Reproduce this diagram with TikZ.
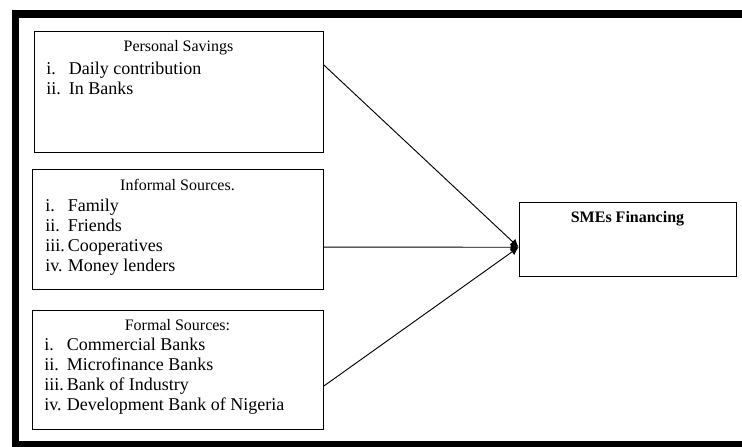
\documentclass[tikz,border=0pt]{standalone}
\usepackage{fontspec}
\setmainfont{Liberation Serif}
\usetikzlibrary{arrows.meta,calc}
\newcommand{\itm}[1]{\makebox[17pt][l]{#1}}

\begin{document}
\begin{tikzpicture}[x=0.75pt,y=-0.75pt,
    box/.style={draw,line width=0.7pt,inner sep=0pt},
    head/.style={font=\fontsize{12}{14}\selectfont},
    items/.style={font=\fontsize{13.5}{15}\selectfont,align=left,anchor=west,inner sep=0pt},
    link/.style={line width=0.7pt,-{Latex[length=6pt,width=6pt]}}]
  \clip (0,0) rectangle (742,446);
  % outer frame
  \draw[line width=5.6pt] (15.5,14) rectangle (800,444.8);

  % source boxes
  \node[box,minimum width=216.75pt,minimum height=90.75pt] (ps) at (178.5,91.5) {};
  \node[head] (psT) at (178.5,48) {Personal Savings};
  \node[items] (psL) at (46,78) {\itm{i.}Daily contribution\\\itm{ii.}In Banks};

  \node[box,minimum width=218.25pt,minimum height=90pt] (inf) at (177.5,229) {};
  \node[head] (infT) at (177.5,185) {Informal Sources.};
  \node[items] (infL) at (45,237) {\itm{i.}Family\\\itm{ii.}Friends\\\itm{iii.}Cooperatives\\\itm{iv.}Money lenders};

  \node[box,minimum width=218.25pt,minimum height=89.25pt] (fs) at (177.5,369.5) {};
  \node[head] (fsT) at (177.5,325) {Formal Sources:};
  \node[items] (fsL) at (44,376) {\itm{i.}Commercial Banks\\\itm{ii.}Microfinance Banks\\\itm{iii.}Bank of Industry\\\itm{iv.}Development Bank of Nigeria};

  % target
  \node[box,minimum width=162.75pt,minimum height=55.5pt] (sme) at (627.5,239) {};
  \node[head,font=\fontsize{12}{14}\selectfont\bfseries] (smeT) at (627.5,219) {SMEs Financing};

  % connectors
  \coordinate (hub) at ($(sme.north west)!0.61!(sme.south west)$);
  \draw[link] ($(ps.north east)!0.28!(ps.south east)$) -- (hub);
  \draw[link] ($(inf.north east)!0.65!(inf.south east)$) -- (hub);
  \draw[link] ($(fs.north east)!0.64!(fs.south east)$) -- (hub);
\end{tikzpicture}
\end{document}
